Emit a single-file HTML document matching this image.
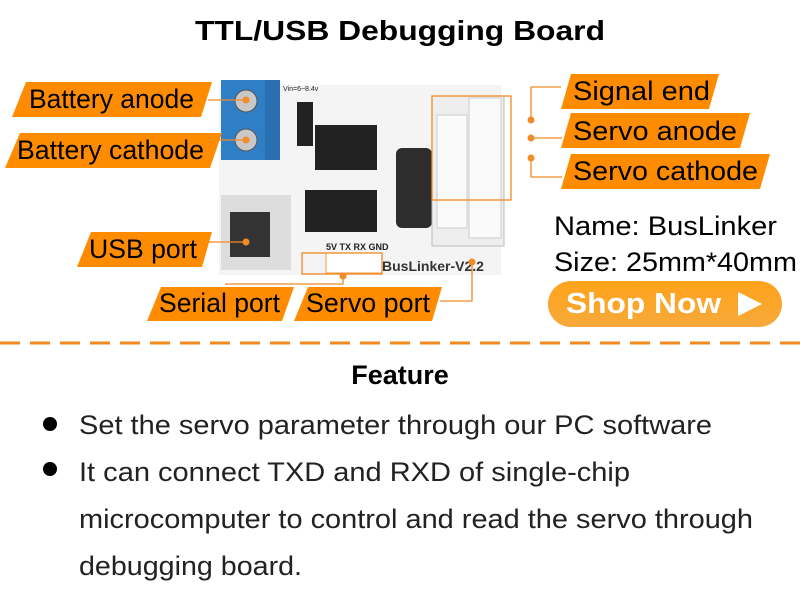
<!DOCTYPE html>
<html><head><meta charset="utf-8"><style>
html,body{margin:0;padding:0;background:#fff;width:800px;height:600px;overflow:hidden}
svg text{font-family:"Liberation Sans",sans-serif}
</style></head><body>
<svg width="800" height="600" viewBox="0 0 800 600" xmlns="http://www.w3.org/2000/svg">
<defs><linearGradient id="g" x1="0" y1="0" x2="0" y2="1"><stop offset="0" stop-color="#ffa31a"/><stop offset="1" stop-color="#f6a93a"/></linearGradient></defs>
<text x="400" y="40" text-anchor="middle" font-size="28" font-weight="bold" textLength="410" lengthAdjust="spacingAndGlyphs">TTL/USB Debugging Board</text>

<!-- board -->
<rect x="219" y="85" width="282" height="190" fill="#f4f4f4"/>
<rect x="221" y="80" width="59" height="80" fill="#2f7fc6"/>
<rect x="265" y="80" width="15" height="80" fill="#2a6fb0"/>
<circle cx="246" cy="101" r="11" fill="#c8c8c8" stroke="#555"/>
<circle cx="246" cy="140" r="11" fill="#c8c8c8" stroke="#555"/>
<rect x="297" y="102" width="16" height="44" fill="#222"/>
<rect x="315" y="125" width="62" height="45" fill="#222"/>
<rect x="305" y="190" width="72" height="42" fill="#222"/>
<rect x="396" y="148" width="36" height="80" rx="6" fill="#2d2d2d"/>
<rect x="432" y="96" width="72" height="150" fill="#eee" stroke="#bbb"/>
<rect x="437" y="115" width="30" height="113" fill="#fafafa" stroke="#ccc"/>
<rect x="469" y="98" width="32" height="140" fill="#fafafa" stroke="#ccc"/>
<rect x="221" y="195" width="70" height="75" fill="#ddd"/>
<rect x="230" y="212" width="40" height="45" fill="#333"/>
<rect x="326" y="253" width="56" height="20" fill="#fff" stroke="#f39a3c"/>
<text x="326" y="250" font-size="9" font-weight="bold" fill="#222">5V TX RX GND</text>
<text x="382" y="271" font-size="14" font-weight="bold" fill="#333" font-family="Liberation Serif">BusLinker-V2.2</text>
<text x="283" y="91" font-size="7" fill="#222">Vin=6~8.4v</text>

<!-- connectors -->
<g stroke="#f08a24" stroke-width="1.3" fill="none">
<line x1="208" y1="100" x2="246" y2="100"/>
<line x1="218" y1="140" x2="246" y2="140"/>
<line x1="206" y1="242" x2="246" y2="242"/>
<polyline points="226,285 226,284 343,284 343,276"/>
<polyline points="440,301 472,301 472,265"/>
<rect x="302" y="253" width="80" height="21"/>
<rect x="432" y="96" width="79" height="104"/>
<polyline points="561,87 531,87 531,120"/>
<line x1="531" y1="138" x2="562" y2="138"/>
<polyline points="531,158 531,177 562,177"/>
</g>
<g fill="#f28b2a">
<circle cx="246" cy="100" r="3.5"/><circle cx="246" cy="140" r="3.5"/><circle cx="246" cy="242" r="3.5"/>
<circle cx="343" cy="276" r="3.5"/><circle cx="472" cy="262" r="3.5"/>
<circle cx="531" cy="120" r="3.5"/><circle cx="531" cy="138" r="3.5"/><circle cx="531" cy="158" r="3.5"/>
</g>

<!-- labels -->
<g fill="#ff8c00">
<polygon points="26,82 212,82 201,117 12,117"/>
<polygon points="20,133 222,133 210,168 5,168"/>
<polygon points="91,232 212,232 202,267 77,267"/>
<polygon points="161,287 294,287 282,321 147,321"/>
<polygon points="308,287 442,287 432,321 294,321"/>
<polygon points="571,74 719,74 709,109 561,109"/>
<polygon points="571,113 750,113 740,148 561,148"/>
<polygon points="571,154 770,154 760,189 561,189"/>
</g>
<g font-size="27" fill="#000">
<text x="29" y="108" textLength="165" lengthAdjust="spacingAndGlyphs">Battery anode</text>
<text x="17" y="159" textLength="187" lengthAdjust="spacingAndGlyphs">Battery cathode</text>
<text x="89" y="258" textLength="108" lengthAdjust="spacingAndGlyphs">USB port</text>
<text x="159" y="312" textLength="121" lengthAdjust="spacingAndGlyphs">Serial port</text>
<text x="306" y="312" textLength="124" lengthAdjust="spacingAndGlyphs">Servo port</text>
<text x="573" y="100" textLength="137" lengthAdjust="spacingAndGlyphs">Signal end</text>
<text x="573" y="140" textLength="164" lengthAdjust="spacingAndGlyphs">Servo anode</text>
<text x="573" y="180" textLength="185" lengthAdjust="spacingAndGlyphs">Servo cathode</text>
<text x="554" y="235" textLength="223" lengthAdjust="spacingAndGlyphs">Name: BusLinker</text>
<text x="554" y="271" textLength="243" lengthAdjust="spacingAndGlyphs">Size: 25mm*40mm</text>
</g>
<rect x="548" y="281" width="234" height="46" rx="23" fill="url(#g)"/>
<text x="566" y="313" font-size="29" font-weight="bold" fill="#fff" textLength="155" lengthAdjust="spacingAndGlyphs">Shop Now</text>
<polygon points="738,292 738,316 762,304" fill="#fff"/>

<line x1="0" y1="343" x2="800" y2="343" stroke="#f4891e" stroke-width="3" stroke-dasharray="20,10"/>
<text x="400" y="384" text-anchor="middle" font-size="27" font-weight="bold">Feature</text>
<g font-size="27" fill="#222">
<circle cx="50" cy="424" r="7" fill="#000"/>
<circle cx="50" cy="469" r="7" fill="#000"/>
<text x="79" y="434" textLength="633" lengthAdjust="spacingAndGlyphs">Set the servo parameter through our PC software</text>
<text x="79" y="481" textLength="551" lengthAdjust="spacingAndGlyphs">It can connect TXD and RXD of single-chip</text>
<text x="79" y="528" textLength="674" lengthAdjust="spacingAndGlyphs">microcomputer to control and read the servo through</text>
<text x="79" y="575" textLength="223" lengthAdjust="spacingAndGlyphs">debugging board.</text>
</g>
</svg>
</body></html>
